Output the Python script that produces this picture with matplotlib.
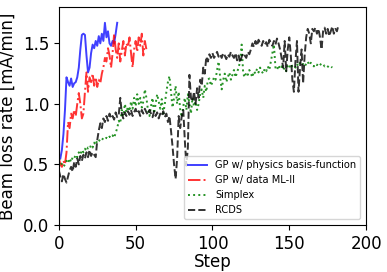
import matplotlib
matplotlib.use('Agg')
import matplotlib.pyplot as plt
import numpy as np

# GP w/ physics basis-function
gp_phys = [0.55, 0.62, 0.75, 0.95, 1.22, 1.18, 1.15, 1.21, 1.14, 1.17,
           1.18, 1.22, 1.30, 1.45, 1.57, 1.58, 1.57, 1.40, 1.26, 1.30,
           1.42, 1.49, 1.46, 1.52, 1.48, 1.56, 1.50, 1.58, 1.52, 1.67,
           1.55, 1.60, 1.50, 1.48, 1.52, 1.50, 1.58, 1.67]

# GP w/ data ML-II
gp_data = [0.55, 0.50, 0.48, 0.53, 0.50, 0.60, 0.85, 0.80, 0.92, 0.88,
           0.95, 0.90, 1.00, 1.09, 1.00, 0.88, 0.92, 1.10, 1.26, 1.10,
           1.22, 1.18, 1.25, 1.15, 1.22, 1.14, 1.20, 1.17, 1.25, 1.30,
           1.38, 1.35, 1.46, 1.40, 1.30, 1.42, 1.58, 1.45, 1.38, 1.50,
           1.35, 1.44, 1.52, 1.40, 1.50, 1.47, 1.55, 1.42, 1.30, 1.45,
           1.52, 1.43, 1.55, 1.48, 1.58, 1.40, 1.52, 1.45]

simplex = [0.55, 0.52, 0.50, 0.48, 0.50, 0.53, 0.51, 0.55, 0.52, 0.56,
           0.55, 0.58, 0.56, 0.60, 0.58, 0.62, 0.60, 0.63, 0.61, 0.64,
           0.63, 0.66, 0.64, 0.68, 0.66, 0.70, 0.69, 0.71, 0.70, 0.72,
           0.71, 0.72, 0.71, 0.73, 0.72, 0.74, 0.72, 0.76, 0.80, 0.86,
           0.84, 0.95, 0.90, 1.00, 0.93, 0.98, 0.94, 1.02, 0.96, 1.05,
           0.98, 1.08, 1.00, 1.05, 0.97, 1.02, 1.12, 1.05, 0.95, 0.90,
           0.98, 1.05, 0.92, 1.00, 1.08, 1.02, 0.96, 1.04, 0.92, 1.00,
           1.10, 1.18, 1.23, 1.10, 0.97, 1.05, 1.15, 1.00, 1.10, 0.95,
           0.89, 0.98, 1.05, 0.95, 1.08, 1.00, 0.92, 1.05, 0.98, 1.02,
           0.95, 1.00, 1.08, 1.12, 1.05, 1.15, 1.10, 1.20, 1.21, 1.15,
           1.18, 1.22, 1.20, 1.28, 1.35, 1.22, 1.12, 1.20, 1.25, 1.18,
           1.22, 1.26, 1.20, 1.24, 1.28, 1.22, 1.26, 1.30, 1.35, 1.49,
           1.25, 1.22, 1.26, 1.24, 1.28, 1.25, 1.22, 1.27, 1.25, 1.29,
           1.26, 1.30, 1.27, 1.25, 1.29, 1.27, 1.31, 1.28, 1.35, 1.42,
           1.49, 1.30, 1.28, 1.32, 1.29, 1.31, 1.28, 1.30, 1.27, 1.32,
           1.30, 1.33, 1.31, 1.32, 1.30, 1.33, 1.31, 1.34, 1.32, 1.33,
           1.31, 1.33, 1.35, 1.32, 1.34, 1.33, 1.31, 1.33, 1.32, 1.34,
           1.33, 1.32, 1.33, 1.31, 1.32, 1.31, 1.30, 1.31, 1.30]

rcds = [0.45, 0.40, 0.36, 0.42, 0.38, 0.35, 0.40, 0.45, 0.48, 0.44,
        0.52, 0.48, 0.55, 0.50, 0.57, 0.53, 0.58, 0.55, 0.60, 0.56,
        0.62, 0.57, 0.60, 0.58, 0.56, 0.70, 0.78, 0.84, 0.80, 0.88,
        0.85, 0.90, 0.86, 0.92, 0.88, 0.90, 0.87, 0.93, 0.89, 0.91,
        1.05, 0.92, 0.88, 0.93, 0.90, 0.94, 0.91, 0.95, 0.90, 0.93,
        0.96, 0.92, 0.94, 0.90, 0.95, 0.92, 0.96, 0.93, 0.91, 0.95,
        0.92, 0.89, 0.94, 0.90, 0.93, 0.88, 0.92, 0.90, 0.94, 0.89,
        0.92, 0.85, 0.90, 0.78, 0.65, 0.50, 0.38, 0.55, 0.90, 0.80,
        0.90, 0.95, 0.70, 0.49, 0.64, 1.24, 1.05, 1.02, 1.10, 1.00,
        1.13, 1.05, 1.20, 1.15, 1.30, 1.25, 1.39, 1.35, 1.41, 1.38,
        1.42, 1.38, 1.40, 1.43, 1.39, 1.41, 1.38, 1.42, 1.40, 1.37,
        1.41, 1.39, 1.43, 1.40, 1.38, 1.42, 1.36, 1.40, 1.34, 1.39,
        1.42, 1.40, 1.38, 1.43, 1.41, 1.45, 1.50, 1.47, 1.52, 1.48,
        1.53, 1.50, 1.48, 1.52, 1.49, 1.51, 1.47, 1.53, 1.50, 1.48,
        1.52, 1.49, 1.54, 1.50, 1.45, 1.38, 1.30, 1.52, 1.27, 1.45,
        1.55, 1.40, 1.20, 1.10, 1.35, 1.52, 1.10, 1.30, 1.45, 1.17,
        1.40, 1.55, 1.62, 1.58, 1.50, 1.62, 1.60, 1.63, 1.58, 1.62,
        1.55, 1.45, 1.60, 1.63, 1.58, 1.62, 1.56, 1.60, 1.64, 1.58,
        1.62, 1.60, 1.65]

fig = plt.figure(figsize=(3.87, 2.72), dpi=100)
ax = fig.add_axes([0.152, 0.173, 0.794, 0.801])

ax.plot(np.arange(1, len(gp_phys) + 1), gp_phys, color='blue', alpha=0.75,
        linewidth=1.4, label='GP w/ physics basis-function')
ax.plot(np.arange(len(gp_data)), gp_data, color='red', alpha=0.8,
        linestyle='-.', linewidth=1.4, label='GP w/ data ML-II')
ax.plot(np.arange(len(simplex)), simplex, color='green', alpha=0.85,
        linestyle=':', linewidth=1.4, label='Simplex')
ax.plot(np.arange(len(rcds)), rcds, color='black', alpha=0.8,
        linestyle='--', linewidth=1.4, label='RCDS')

ax.set_xlim(0, 200)
ax.set_ylim(0, 1.8)
ax.set_xticks([0, 50, 100, 150, 200])
ax.set_yticks([0.0, 0.5, 1.0, 1.5])
ax.tick_params(labelsize=12)
ax.set_xlabel('Step', fontsize=12, labelpad=0)
ax.set_ylabel('Beam loss rate [mA/min]', fontsize=12, labelpad=4)
ax.legend(loc='lower right', fontsize=7.1, borderaxespad=0.6)

fig.savefig('out.png', dpi=100)
